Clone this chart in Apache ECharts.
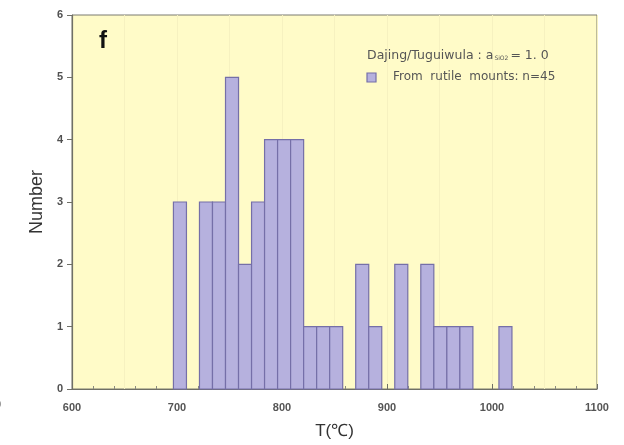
<!DOCTYPE html>
<html>
<head>
<meta charset="utf-8">
<script src="https://cdn.jsdelivr.net/npm/echarts@6/dist/echarts.min.js"></script>
<style>html,body{margin:0;padding:0;background:#fff;}#c{width:624px;height:445px;}</style>
</head>
<body>
<div id="c"></div>
<script>
// Bin left edges (°C), bin width (°C) and counts
const binStarts = [696.6, 709.0, 721.4, 733.8, 746.2, 758.6, 771.0, 783.4, 795.8, 808.2, 820.6, 833.0, 845.4, 857.8, 870.2, 882.6, 895.0, 907.4, 919.8, 932.2, 944.6, 957.0, 969.4, 981.8, 994.2, 1006.6];
const binWidth = 12.4;
const counts = [3, 0, 3, 3, 5, 2, 3, 4, 4, 4, 1, 1, 1, 0, 2, 1, 0, 2, 0, 2, 1, 1, 1, 0, 0, 1];
const xTicks = [600, 700, 800, 900, 1000, 1100];
const yTicks = [0, 1, 2, 3, 4, 5, 6];
const panelLabel = 'f';
const legendTitle = 'Dajing/Tuguiwula';
const legendSeries = 'From  rutile  mounts: n=45';
const xTitle = 'T(℃)';
const yTitle = 'Number';

const data = binStarts.map((s, i) => [s, s + binWidth, counts[i]]);

const chart = echarts.init(document.getElementById('c'));
const FONT = 'Liberation Sans, Arial, sans-serif';
const LFONT = 'DejaVu Sans, sans-serif';
chart.setOption({
  animation: false,
  backgroundColor: '#ffffff',
  grid: {left: 72, right: 27, top: 15, bottom: 55, show: true, backgroundColor: '#FFFBC8', borderColor: '#7a7a70', borderWidth: 1},
  xAxis: [{
    type: 'value', min: xTicks[0], max: xTicks[xTicks.length - 1], interval: 100,
    axisLine: {show: true, lineStyle: {color: '#6f6f66', width: 1.2}},
    axisTick: {show: true, inside: true, length: 5, lineStyle: {color: '#6f6f66'}},
    minorTick: {show: true, splitNumber: 5, length: 3, lineStyle: {color: '#8a8a80'}},
    axisLabel: {color: '#555', fontSize: 11, fontFamily: FONT, fontWeight: 'bold', margin: 13, formatter: v => String(v)},
    splitLine: {show: true, lineStyle: {color: '#E9E4B4', width: 1}},
    name: xTitle, nameLocation: 'middle', nameGap: 34,
    nameTextStyle: {color: '#333', fontSize: 17, fontFamily: FONT}
  }, {
    type: 'value', min: 600, max: 1100, interval: 50, show: true,
    axisLine: {show: false}, axisTick: {show: false}, axisLabel: {show: false},
    splitLine: {show: true, lineStyle: {color: '#F6F1C0', width: 1}}
  }],
  yAxis: {
    type: 'value', min: yTicks[0], max: yTicks[yTicks.length - 1], interval: 1,
    axisLine: {show: true, lineStyle: {color: '#6f6f66', width: 1.2}},
    axisTick: {show: true, inside: false, length: 5, lineStyle: {color: '#6f6f66'}},
    axisLabel: {color: '#505050', fontSize: 11, fontFamily: FONT, fontWeight: 'bold', margin: 9},
    splitLine: {show: false},
    name: yTitle, nameLocation: 'middle', nameGap: 23,
    nameTextStyle: {color: '#333', fontSize: 18, fontFamily: FONT}
  },
  series: [{
    type: 'custom',
    xAxisIndex: 0,
    data: data,
    z: 5,
    renderItem: function (params, api) {
      const h = api.value(2);
      if (!h) return null;
      const p0 = api.coord([api.value(0), h]);
      const p1 = api.coord([api.value(1), 0]);
      return {
        type: 'rect',
        shape: {x: p0[0], y: p0[1], width: p1[0] - p0[0], height: p1[1] - p0[1]},
        style: {fill: '#B6B1DE', stroke: '#756FA8', lineWidth: 1.2}
      };
    }
  }],
  graphic: [
    {type: 'text', z: 100, left: 99, top: 29, style: {text: panelLabel, fontSize: 24, fontWeight: 'bold', fontFamily: FONT, fill: '#111'}},
    {type: 'text', z: 100, left: 367, top: 49, style: {
      rich: {
        a: {fontSize: 12.5, fontFamily: LFONT, fill: '#555'},
        s: {fontSize: 6, fontFamily: LFONT, fill: '#555', padding: [6, 2, 0, 1]}
      },
      text: '{a|' + legendTitle + ' : a}{s|SiO2}{a|= 1. 0}'
    }},
    {type: 'rect', z: 100, shape: {x: 367, y: 73, width: 9, height: 9}, style: {fill: '#B6B1DE', stroke: '#756FA8', lineWidth: 1.2}},
    {type: 'text', z: 100, left: 393, top: 71, style: {text: legendSeries, fontSize: 12, fontFamily: LFONT, fill: '#555'}},
    {type: 'text', z: 100, left: -5, top: 399, style: {text: '0', fontSize: 11, fontFamily: FONT, fill: '#666', fontWeight: 'bold'}}
  ]
});
</script>
</body>
</html>
